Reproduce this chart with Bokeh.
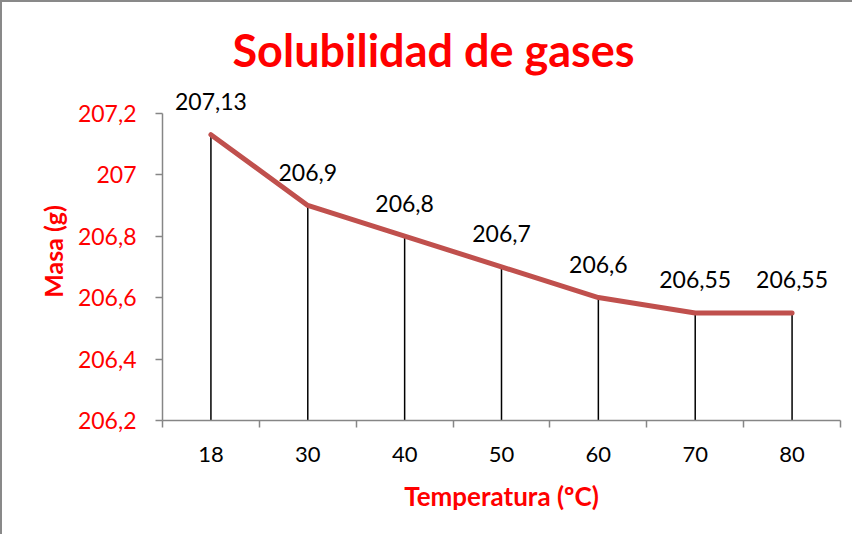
from bokeh.plotting import figure
from bokeh.models import (Range1d, FixedTicker, CustomJSTickFormatter,
                          ColumnDataSource, LabelSet, Title)
from bokeh.core.properties import value
from bokeh.embed import file_html
from bokeh.resources import INLINE

# ---- data ----
temps = ["18", "30", "40", "50", "60", "70", "80"]
masa = [207.13, 206.9, 206.8, 206.7, 206.6, 206.55, 206.55]
y_ticks = [206.2, 206.4, 206.6, 206.8, 207.0, 207.2]
title_text = "Solubilidad de gases"
x_title = "Temperatura (ºC)"
y_title = "Masa (g)"

FONT = "Lato"
RED = "#FF0000"
AXIS_GRAY = "#868686"

xs = [i + 0.5 for i in range(len(temps))]
labels = [f"{v:g}".replace(".", ",") for v in masa]
src = ColumnDataSource(dict(x=xs, y=masa, lab=labels,
                            base=[y_ticks[0]] * len(masa)))

# headroom above the top tick so the highest data label is not clipped
y_top = y_ticks[-1] + 0.1

p = figure(width=852, height=534, output_backend="svg", toolbar_location=None,
           x_range=Range1d(0, len(temps)),
           y_range=Range1d(y_ticks[0], y_top),
           min_border_left=160, min_border_right=14,
           min_border_top=80, min_border_bottom=116)
p.styles = {"border-left": "2px solid #898989", "border-top": "2px solid #898989"}
p.xgrid.visible = False
p.ygrid.visible = False
p.outline_line_color = None
p.background_fill_color = "white"
p.border_fill_color = "white"

# drop lines
p.segment(x0="x", y0="base", x1="x", y1="y", source=src,
          line_color="black", line_width=1.5)
# series line
p.line("x", "y", source=src, line_color="#C0504D", line_width=5,
       line_cap="round", line_join="round")

# data labels
p.add_layout(LabelSet(x="x", y="y", text="lab", source=src,
                      text_align="center", text_baseline="middle",
                      y_offset=33, text_font=value(FONT),
                      text_font_size=value("23px"), text_color="black"))

# y axis
ya = p.yaxis[0]
ya.bounds = (y_ticks[0], y_ticks[-1])
ya.ticker = FixedTicker(ticks=y_ticks, minor_ticks=[])
ya.formatter = CustomJSTickFormatter(
    code="return (Math.round(tick*10)/10).toString().replace('.', ',');")
ya.major_label_text_color = RED
ya.major_label_text_font = FONT
ya.major_label_text_font_size = "23px"
ya.axis_line_color = AXIS_GRAY
ya.axis_line_width = 1.5
ya.major_tick_line_color = AXIS_GRAY
ya.major_tick_line_width = 1.5
ya.major_tick_out = 7
ya.major_tick_in = 0
ya.minor_tick_line_color = None
ya.major_label_standoff = 19
ya.axis_label = y_title
ya.axis_label_text_color = RED
ya.axis_label_text_font = FONT
ya.axis_label_text_font_style = "bold"
ya.axis_label_text_font_size = "25px"
ya.axis_label_standoff = 7

# x axis
xa = p.xaxis[0]
xa.ticker = FixedTicker(ticks=xs, minor_ticks=list(range(len(temps) + 1)))
xa.formatter = CustomJSTickFormatter(args=dict(labels=temps),
                                     code="return labels[Math.floor(tick)];")
xa.major_label_text_color = "black"
xa.major_label_text_font = FONT
xa.major_label_text_font_size = "22px"
xa.axis_line_color = AXIS_GRAY
xa.axis_line_width = 1.5
xa.major_tick_line_color = None
xa.major_tick_out = 0
xa.major_tick_in = 0
xa.minor_tick_line_color = AXIS_GRAY
xa.minor_tick_line_width = 1.5
xa.minor_tick_out = 7
xa.minor_tick_in = 0
xa.major_label_standoff = 19
xa.axis_label = x_title
xa.axis_label_text_color = RED
xa.axis_label_text_font = FONT
xa.axis_label_text_font_style = "bold"
xa.axis_label_text_font_size = "26px"
xa.axis_label_standoff = 15

# title
p.add_layout(Title(text=title_text, align="left", offset=70, standoff=11,
                   text_font=FONT, text_font_style="bold",
                   text_font_size="45px", text_color=RED), "above")

open("out.html", "w").write(file_html(p, INLINE))
